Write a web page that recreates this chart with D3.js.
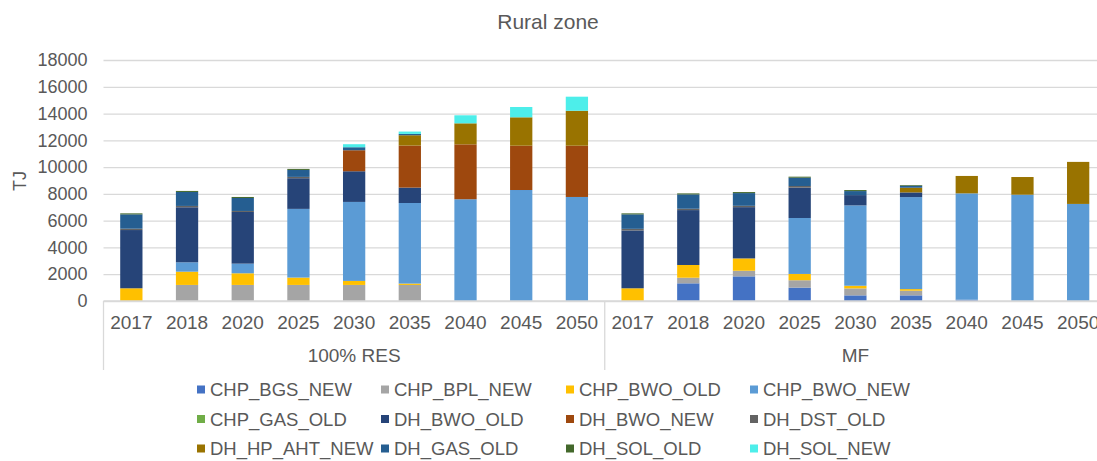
<!DOCTYPE html>
<html>
<head>
<meta charset="utf-8">
<script src="https://cdn.jsdelivr.net/npm/d3@7"></script>
<style>
  body { margin: 0; background: #fff; }
  text { font-family: "Liberation Sans", Arial, sans-serif; fill: #595959; }
</style>
</head>
<body>
<script>
/*
*    rural zone - stacked bars
*/

var groups = ["100% RES", "MF"];
var years = ["2017", "2018", "2020", "2025", "2030", "2035", "2040", "2045", "2050"];
var seriesNames = ["CHP_BGS_NEW", "CHP_BPL_NEW", "CHP_BWO_OLD", "CHP_BWO_NEW", "CHP_GAS_OLD",
    "DH_BWO_OLD", "DH_BWO_NEW", "DH_DST_OLD", "DH_HP_AHT_NEW", "DH_GAS_OLD", "DH_SOL_OLD", "DH_SOL_NEW"];
var yTicks = [0, 2000, 4000, 6000, 8000, 10000, 12000, 14000, 16000, 18000];

// values: 9 years of 100% RES, then 9 years of MF (TJ)
var CHP_BGS_NEW   = [0, 0, 0, 0, 0, 0, 0, 0, 0,            0, 1320, 1840, 1000, 420, 420, 100, 0, 0];
var CHP_BPL_NEW   = [0, 1200, 1200, 1200, 1200, 1200, 0, 0, 0, 0, 420, 420, 550, 520, 350, 0, 0, 0];
var CHP_BWO_OLD   = [950, 990, 870, 550, 300, 100, 0, 0, 0,  950, 950, 920, 470, 200, 120, 0, 0, 0];
var CHP_BWO_NEW   = [0, 700, 720, 5130, 5900, 6020, 7600, 8290, 7770, 0, 0, 0, 4180, 6000, 6870, 7940, 7940, 7250];
var CHP_GAS_OLD   = [0, 0, 0, 0, 0, 0, 0, 0, 0,            0, 0, 0, 0, 0, 0, 0, 0, 0];
var DH_BWO_OLD    = [4350, 4110, 3860, 2290, 2290, 1150, 0, 0, 0, 4320, 4100, 3830, 2270, 770, 350, 0, 0, 0];
var DH_BWO_NEW    = [0, 0, 0, 0, 1570, 3140, 4100, 3310, 3830, 0, 0, 0, 0, 0, 0, 0, 0, 0];
var DH_DST_OLD    = [100, 100, 75, 100, 0, 0, 0, 0, 0,       120, 100, 100, 120, 0, 0, 0, 0, 0];
var DH_HP_AHT_NEW = [0, 0, 0, 0, 0, 770, 1570, 2120, 2610,   0, 0, 0, 0, 0, 350, 1300, 1320, 3140];
var DH_GAS_OLD    = [1070, 1045, 970, 520, 225, 100, 0, 0, 0, 1080, 1070, 950, 620, 300, 150, 0, 0, 0];
var DH_SOL_OLD    = [75, 75, 75, 75, 0, 0, 0, 0, 0,          75, 75, 75, 75, 75, 50, 0, 0, 0];
var DH_SOL_NEW    = [0, 0, 0, 0, 225, 175, 600, 770, 1050,   0, 0, 0, 0, 0, 0, 0, 0, 0];

var seriesValues = [CHP_BGS_NEW, CHP_BPL_NEW, CHP_BWO_OLD, CHP_BWO_NEW, CHP_GAS_OLD,
    DH_BWO_OLD, DH_BWO_NEW, DH_DST_OLD, DH_HP_AHT_NEW, DH_GAS_OLD, DH_SOL_OLD, DH_SOL_NEW];

var colors = ["#4472C4", "#A5A5A5", "#FFC000", "#5B9BD5", "#70AD47",
    "#264478", "#9E480E", "#636363", "#997300", "#255E91", "#43682B", "#4DEEEA"];

// build rows for the stack
var data = [];
groups.forEach(function(g, gi) {
    years.forEach(function(yr, yi) {
        var row = {key: g + "|" + yr, group: g, year: yr};
        seriesNames.forEach(function(s, si) {
            row[s] = seriesValues[si][gi * years.length + yi];
        });
        data.push(row);
    });
});

var margin = {top: 60, left: 103.5, plotRight: 1106, bottom: 301};
var svg = d3.select("body")
    .append("svg")
    .attr("width", 1097)
    .attr("height", 461);

var x = d3.scaleBand()
    .domain(data.map(function(d) { return d.key; }))
    .range([margin.left, margin.plotRight])
    .paddingInner(0.6)
    .paddingOuter(0.3);

var y = d3.scaleLinear()
    .domain([0, 18000])
    .range([margin.bottom, margin.top]);

// title
svg.append("text")
    .attr("x", 548)
    .attr("y", 29)
    .attr("font-size", "21px")
    .attr("text-anchor", "middle")
    .text("Rural zone");

// gridlines + y axis
var leftAxis = d3.axisLeft(y)
    .tickValues(yTicks)
    .tickSize(-(margin.plotRight - margin.left))
    .tickPadding(16)
    .tickFormat(d3.format("d"));

var ya = svg.append("g")
    .attr("class", "left axis")
    .attr("transform", "translate(" + margin.left + ",0)")
    .call(leftAxis);
ya.select(".domain").remove();
ya.selectAll("line").attr("stroke", "#D9D9D9").attr("stroke-width", 1.3);
ya.selectAll("text")
    .attr("font-size", "18px")
    .style("font-family", "'Liberation Sans', Arial, sans-serif")
    .attr("fill", "#595959");

svg.append("text")
    .attr("transform", "rotate(-90)")
    .attr("x", -181)
    .attr("y", 26)
    .attr("font-size", "18px")
    .attr("text-anchor", "middle")
    .text("TJ");

// stacked bars
var stack = d3.stack().keys(seriesNames);
var layers = stack(data);

svg.append("g")
    .selectAll("g")
    .data(layers)
    .enter()
    .append("g")
        .attr("fill", function(d, i) { return colors[i]; })
    .selectAll("rect")
    .data(function(d) { return d; })
    .enter()
    .append("rect")
        .attr("x", function(d) { return x(d.data.key); })
        .attr("y", function(d) { return y(d[1]); })
        .attr("width", x.bandwidth())
        .attr("height", function(d) { return y(d[0]) - y(d[1]); });

// x axis: years and groups
var axisG = svg.append("g").attr("class", "bottom axis");
axisG.append("line")
    .attr("x1", margin.left).attr("x2", margin.plotRight)
    .attr("y1", margin.bottom).attr("y2", margin.bottom)
    .attr("stroke", "#D9D9D9").attr("stroke-width", 1.3);

axisG.selectAll(".year")
    .data(data)
    .enter()
    .append("text")
        .attr("class", "year")
        .attr("x", function(d) { return x(d.key) + x.bandwidth() / 2; })
        .attr("y", 329)
        .attr("font-size", "19px")
        .attr("text-anchor", "middle")
        .text(function(d) { return d.year; });

var groupEdges = [margin.left, x(groups[1] + "|" + years[0]) - x.step() * 0.3, margin.plotRight];
axisG.selectAll(".sep")
    .data(groupEdges)
    .enter()
    .append("line")
        .attr("x1", function(d) { return d; })
        .attr("x2", function(d) { return d; })
        .attr("y1", margin.bottom)
        .attr("y2", 370)
        .attr("stroke", "#D9D9D9")
        .attr("stroke-width", 1.3);

axisG.selectAll(".group")
    .data(groups)
    .enter()
    .append("text")
        .attr("class", "group")
        .attr("x", function(d, i) { return (groupEdges[i] + groupEdges[i + 1]) / 2; })
        .attr("y", 362)
        .attr("font-size", "19px")
        .attr("text-anchor", "middle")
        .text(function(d) { return d; });

// legend
var legendCols = [197, 381, 566, 750];
var legend = svg.append("g").attr("class", "legend");
var items = legend.selectAll("g")
    .data(seriesNames)
    .enter()
    .append("g")
        .attr("transform", function(d, i) {
            return "translate(" + legendCols[i % 4] + "," + (389.5 + Math.floor(i / 4) * 29.5) + ")";
        });
items.append("rect")
    .attr("x", 0)
    .attr("y", -4)
    .attr("width", 8)
    .attr("height", 8)
    .attr("fill", function(d, i) { return colors[i]; });
items.append("text")
    .attr("x", 13)
    .attr("y", 6.5)
    .attr("font-size", "18.5px")
    .text(function(d) { return d; });
</script>
</body>
</html>
